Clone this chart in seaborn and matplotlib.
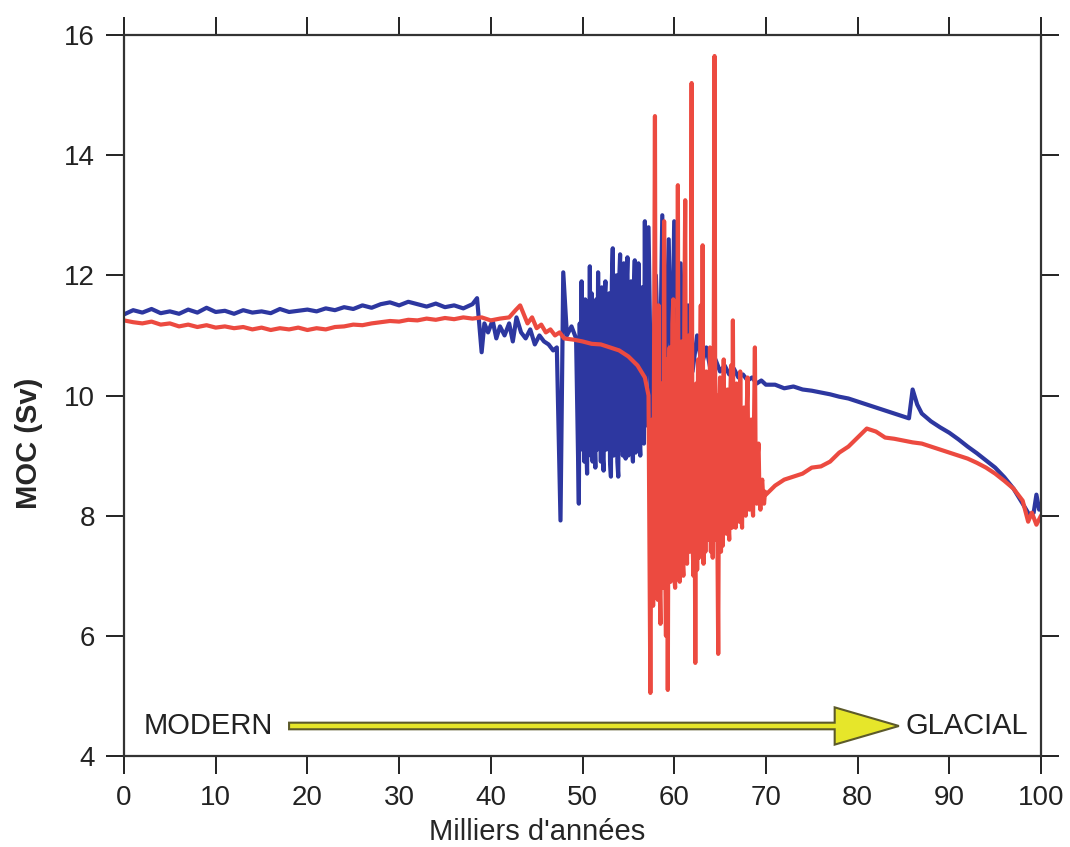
import numpy as np
import pandas as pd
import matplotlib
matplotlib.use("Agg")
import matplotlib.pyplot as plt
import seaborn as sns

# --- data (thousands of years vs MOC in Sv) ---
# blue run, calm part up to ~49 kyr
blue_a_x = [0, 1, 2, 3, 4, 5, 6, 7, 8, 9, 10, 11, 12, 13, 14, 15, 16, 17, 18, 19,
            20, 21, 22, 23, 24, 25, 26, 27, 28, 29, 30, 31, 32, 33, 34, 35, 36, 37, 38,
            38.5, 39.0, 39.3, 39.7, 40.2, 40.6, 41.0, 41.5, 42.0, 42.4, 42.8, 43.3, 43.8,
            44.3, 44.8, 45.3, 45.8, 46.3, 46.8, 47.2, 47.6, 47.9, 48.3, 48.8, 49.3]
blue_a_y = [11.35, 11.42, 11.38, 11.44, 11.37, 11.40, 11.36, 11.43, 11.38, 11.46,
            11.39, 11.41, 11.36, 11.42, 11.38, 11.40, 11.37, 11.44, 11.39, 11.41,
            11.43, 11.40, 11.45, 11.42, 11.47, 11.44, 11.50, 11.46, 11.52, 11.55,
            11.50, 11.56, 11.52, 11.48, 11.53, 11.47, 11.50, 11.45, 11.52,
            11.62, 10.72, 11.20, 11.05, 11.25, 10.95, 11.15, 11.00, 11.20, 10.90, 11.30,
            11.05, 10.95, 11.10, 10.85, 11.00, 10.90, 10.85, 10.75, 10.80, 7.92, 12.05,
            11.00, 11.15, 10.95]

# blue oscillations 49.6 - 56.9 kyr
blue_burst_x = [49.6, 49.7, 49.8, 49.9, 50.0, 50.1, 50.2, 50.3, 50.4, 50.5,
                50.6, 50.7, 50.8, 50.9, 51.0, 51.1, 51.2, 51.3, 51.4, 51.5,
                51.6, 51.7, 51.8, 51.9, 52.0, 52.1, 52.2, 52.3, 52.4, 52.5,
                52.6, 52.7, 52.8, 52.9, 53.0, 53.1, 53.2, 53.3, 53.4, 53.5,
                53.6, 53.7, 53.8, 53.9, 54.0, 54.1, 54.2, 54.3, 54.4, 54.5,
                54.6, 54.7, 54.8, 54.9, 55.0, 55.1, 55.2, 55.3, 55.4, 55.5,
                55.6, 55.7, 55.8, 55.9, 56.0, 56.1, 56.2, 56.3, 56.4, 56.5,
                56.6, 56.7, 56.8, 56.9]
blue_burst_y = [8.20, 11.2, 9.1, 11.9, 9.3, 11.3, 8.9, 11.6, 9.2, 8.7,
                11.5, 9.1, 12.15, 9.0, 11.7, 8.9, 11.4, 9.3, 8.8, 11.6,
                9.1, 12.05, 9.2, 11.5, 8.9, 11.8, 9.0, 8.75, 11.6, 11.9,
                9.1, 11.4, 9.2, 11.7, 8.9, 8.65, 11.9, 12.45, 9.0, 11.8,
                9.2, 12.0, 8.9, 8.65, 11.9, 12.35, 9.1, 11.7, 9.0, 12.2,
                9.2, 8.95, 11.8, 12.3, 9.0, 11.6, 9.1, 11.9, 9.2, 8.9,
                11.7, 12.25, 9.05, 11.6, 9.1, 12.2, 9.3, 9.0, 11.5, 11.8,
                9.3, 9.2, 12.9, 9.5]

# blue after the oscillations
blue_b_x = [57.2, 57.5, 58.0, 58.4, 58.7, 59.0, 59.4, 59.7, 60.0, 60.3,
            60.7, 61.0, 61.5, 62.0, 62.5, 63.0, 63.5, 64.0, 64.5, 65.0,
            65.5, 66.0, 66.5, 67.0, 67.5, 68.0, 68.5, 69.0, 69.5, 70,
            71, 72, 73, 74, 75, 76, 77, 78, 79, 80, 81, 82, 83, 84, 85,
            85.6, 86.0, 86.5, 87,
            88, 89, 90, 91, 92, 93, 94, 95, 96, 97, 98,
            98.7, 99.2, 99.5, 99.8, 100]
blue_b_y = [12.8, 9.6, 12.0, 9.8, 13.0, 10.0, 12.6, 9.9, 12.9, 10.2,
            12.2, 10.3, 11.5, 10.4, 11.0, 10.5, 10.8, 10.4, 10.6, 10.4,
            10.5, 10.35, 10.45, 10.30, 10.35, 10.25, 10.30, 10.20, 10.25, 10.18,
            10.18, 10.12, 10.15, 10.10, 10.08, 10.05, 10.02, 9.98, 9.95, 9.90,
            9.85, 9.80, 9.75, 9.70, 9.65,
            9.62, 10.10, 9.85, 9.70,
            9.57, 9.47, 9.38, 9.27, 9.15, 9.04, 8.92, 8.80, 8.64, 8.45, 8.20,
            8.02, 8.05, 8.35, 8.10, 8.20]

# red run, calm part up to ~57 kyr
red_a_x = [0, 1, 2, 3, 4, 5, 6, 7, 8, 9, 10, 11, 12, 13, 14, 15, 16, 17, 18, 19,
           20, 21, 22, 23, 24, 25, 26, 27, 28, 29, 30, 31, 32, 33, 34, 35, 36, 37, 38, 39,
           40, 41, 42, 42.7, 43.2, 43.6, 44, 44.5, 45, 45.5,
           46, 46.5, 47, 47.5, 48, 49, 50, 51, 52, 53,
           54, 55, 56, 56.8, 57.2]
red_a_y = [11.25, 11.22, 11.20, 11.23, 11.18, 11.20, 11.15, 11.18, 11.14, 11.17,
           11.13, 11.15, 11.12, 11.14, 11.10, 11.13, 11.09, 11.12, 11.10, 11.13,
           11.09, 11.12, 11.10, 11.14, 11.15, 11.18, 11.17, 11.20, 11.22, 11.24,
           11.23, 11.26, 11.25, 11.28, 11.26, 11.29, 11.27, 11.30, 11.28, 11.30,
           11.25, 11.28, 11.30, 11.42, 11.50, 11.35, 11.20, 11.30, 11.12, 11.18,
           11.05, 11.10, 11.00, 11.05, 10.95, 10.93, 10.90, 10.86, 10.85, 10.80,
           10.75, 10.65, 10.50, 10.30, 10.00]

# red oscillations 57.3 - 69.9 kyr
red_burst_x = [57.3, 57.4, 57.5, 57.6, 57.7, 57.8, 57.9, 58.0, 58.1, 58.2,
               58.3, 58.4, 58.5, 58.6, 58.7, 58.8, 58.9, 59.0, 59.1, 59.2,
               59.3, 59.4, 59.5, 59.6, 59.7, 59.8, 59.9, 60.0, 60.1, 60.2,
               60.3, 60.4, 60.5, 60.6, 60.7, 60.8, 60.9, 61.0, 61.1, 61.2,
               61.3, 61.4, 61.5, 61.6, 61.7, 61.8, 61.9, 62.0, 62.1, 62.2,
               62.3, 62.4, 62.5, 62.6, 62.7, 62.8, 62.9, 63.0, 63.1, 63.2,
               63.3, 63.4, 63.5, 63.6, 63.7, 63.8, 63.9, 64.0, 64.1, 64.2,
               64.3, 64.4, 64.5, 64.6, 64.7, 64.8, 64.9, 65.0, 65.1, 65.2,
               65.3, 65.4, 65.5, 65.6, 65.7, 65.8, 65.9, 66.0, 66.1, 66.2,
               66.3, 66.4, 66.5, 66.6, 66.7, 66.8, 66.9, 67.0, 67.1, 67.2,
               67.3, 67.4, 67.5, 67.6, 67.7, 67.8, 67.9, 68.0, 68.1, 68.2,
               68.3, 68.4, 68.5, 68.6, 68.7, 68.8, 68.9, 69.0, 69.1, 69.2,
               69.3, 69.4, 69.5, 69.6, 69.7, 69.8, 69.9]
red_burst_y = [7.5, 5.05, 8.0, 9.6, 6.5, 10.5, 14.65, 7.2, 10.8, 6.6,
               11.5, 7.0, 6.2, 10.2, 9.5, 6.8, 12.9, 7.5, 6.0, 10.6,
               5.1, 9.8, 10.8, 6.9, 7.3, 11.2, 11.6, 7.0, 6.8, 10.5,
               7.2, 13.5, 7.4, 6.9, 10.4, 10.9, 7.3, 7.0, 11.2, 13.25,
               7.5, 7.2, 10.6, 11.0, 7.4, 9.8, 15.2, 7.6, 7.0, 9.8,
               5.55, 10.2, 7.1, 10.6, 7.3, 10.0, 11.5, 7.5, 12.5, 7.2,
               10.3, 7.4, 10.4, 7.7, 9.9, 7.6, 10.8, 7.4, 9.7, 7.3,
               10.2, 15.65, 7.6, 10.0, 7.8, 5.7, 9.8, 10.3, 7.4, 9.9,
               7.5, 10.6, 7.8, 10.0, 7.7, 10.1, 7.9, 7.6, 9.9, 10.5,
               7.8, 11.25, 7.9, 9.7, 7.8, 10.2, 8.0, 9.6, 7.9, 10.4,
               8.1, 7.8, 9.5, 9.8, 8.2, 8.0, 9.7, 10.3, 8.3, 8.1,
               9.4, 9.6, 8.2, 8.0, 9.5, 10.8, 8.3, 8.2, 9.0, 9.2,
               8.3, 8.1, 8.5, 8.6, 8.3, 8.2, 8.4]

# red after the oscillations
red_b_x = [70, 71, 72, 73, 74, 75, 76, 77, 78, 79, 80, 81, 82, 83, 84, 85, 86, 87,
           88, 89, 90, 91, 92, 93, 94, 95, 96, 97, 98, 98.6, 99.0, 99.5, 100]
red_b_y = [8.35, 8.50, 8.60, 8.65, 8.70, 8.80, 8.82, 8.90, 9.05, 9.15, 9.30,
           9.45, 9.40, 9.30, 9.28, 9.25, 9.22, 9.20, 9.15, 9.10, 9.05,
           9.00, 8.95, 8.88, 8.80, 8.70, 8.58, 8.45, 8.25, 7.90, 8.05, 7.85, 8.00]

x_ticks = [0, 10, 20, 30, 40, 50, 60, 70, 80, 90, 100]
y_ticks = [4, 6, 8, 10, 12, 14, 16]

blue_df = pd.DataFrame({"age": blue_a_x + blue_burst_x + blue_b_x,
                        "moc": blue_a_y + blue_burst_y + blue_b_y})
red_df = pd.DataFrame({"age": red_a_x + red_burst_x + red_b_x,
                       "moc": red_a_y + red_burst_y + red_b_y})

sns.set_style("ticks")
plt.rcParams["font.family"] = ["Liberation Sans", "DejaVu Sans"]

fig = plt.figure(figsize=(10.7, 8.47), dpi=100)
ax = fig.add_axes([0.1159, 0.1074, 0.857, 0.8513])

sns.lineplot(data=blue_df, x="age", y="moc", color="#2d37a0", lw=3.0,
             estimator=None, sort=False, ax=ax)
sns.lineplot(data=red_df, x="age", y="moc", color="#ec4a40", lw=3.0,
             estimator=None, sort=False, ax=ax)

ax.set_xlim(0, 100)
ax.set_ylim(4, 16)
ax.set_xticks(x_ticks)
ax.set_yticks(y_ticks)
ax.tick_params(direction="out", length=13, width=1.4, top=True, right=True,
               labelsize=20, pad=8, colors="#222222")
for sp in ax.spines.values():
    sp.set_linewidth(1.6)
    sp.set_color("#333333")
    sp.set_visible(True)

ax.set_xlabel("Milliers d'années", fontsize=21)
ax.xaxis.set_label_coords(0.45, -0.086)
ax.set_ylabel("MOC (Sv)", fontsize=21, fontweight="bold")
ax.yaxis.set_label_coords(-0.088, 0.434)

# MODERN -> GLACIAL arrow
ax.arrow(18, 4.5, 66.5, 0, width=0.11, head_width=0.62, head_length=7,
         length_includes_head=True, fc="#e6e62a", ec="#5c5a2a", lw=1.5, zorder=5)
ax.text(2.1, 4.5, "MODERN", fontsize=21, ha="left", va="center", color="#222222")
ax.text(85.2, 4.5, "GLACIAL", fontsize=21, ha="left", va="center", color="#222222")

fig.savefig("out.png", dpi=100)
